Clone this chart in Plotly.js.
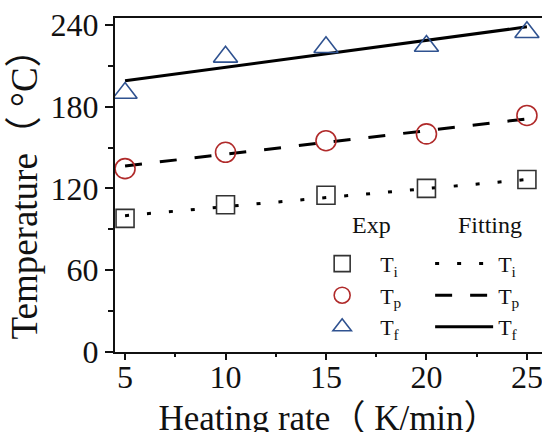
<!DOCTYPE html>
<html>
<head>
<meta charset="utf-8">
<script src="https://cdn.plot.ly/plotly-3.0.1.min.js"></script>
<style>
  html, body { margin: 0; padding: 0; background: #fff; overflow: hidden; }
  #chart { width: 542px; height: 452px; }
</style>
</head>
<body>
<div id="chart"></div>
<script>
// Heating rates (K/min)
const heatingRate = [5, 10, 15, 20, 25];

// Measured characteristic temperatures (°C)
const expTi = [98, 108, 115, 120, 126.5];
const expTp = [134.5, 146.5, 155, 160, 173.5];
const expTf = [190, 216.5, 223.5, 224.5, 234.5];

// Linear fits, evaluated at the ends of the heating-rate range
const fitRate = [5, 25];
const fitTi = [100, 126.5];
const fitTp = [136.5, 171];
const fitTf = [199, 238.5];

const seriesNames = ['T<sub>i</sub>', 'T<sub>p</sub>', 'T<sub>f</sub>'];
const legendHeaders = ['Exp', 'Fitting'];

const serif = "'Liberation Serif', 'Times New Roman', 'Noto Sans CJK SC', serif";
const ink = '#111';

const traces = [
  // fitted lines (drawn first so markers sit on top)
  { x: fitRate, y: fitTi, mode: 'lines', name: seriesNames[0], legend: 'legend2',
    line: { color: '#000', width: 3, dash: '4px,18px' } },
  { x: fitRate, y: fitTp, mode: 'lines', name: seriesNames[1], legend: 'legend2',
    line: { color: '#000', width: 3, dash: '17px,18px' } },
  { x: fitRate, y: fitTf, mode: 'lines', name: seriesNames[2], legend: 'legend2',
    line: { color: '#000', width: 3 } },
  // experimental points
  { x: heatingRate, y: expTi, mode: 'markers', name: seriesNames[0], legend: 'legend',
    marker: { symbol: 'square-open', size: 18, color: '#333', line: { width: 1.6, color: '#333' } } },
  { x: heatingRate, y: expTp, mode: 'markers', name: seriesNames[1], legend: 'legend',
    marker: { symbol: 'circle-open', size: 20, color: '#b02a2a', line: { width: 1.6, color: '#b02a2a' } } },
  { x: heatingRate, y: expTf, mode: 'markers', name: seriesNames[2], legend: 'legend',
    marker: { symbol: 'triangle-up-open', size: 21, color: '#2f5290', line: { width: 1.6, color: '#2f5290' } } }
];

const legendBase = {
  xanchor: 'left', yanchor: 'top',
  bgcolor: 'rgba(0,0,0,0)', borderwidth: 0, tracegroupgap: 0,
  font: { family: serif, size: 22, color: ink }
};

// The figure is a little taller than the 432px window, so the descenders
// of the x-axis title run past the lower edge.
const layout = {
  width: 542,
  height: 452,
  margin: { l: 115, r: 0, t: 18, b: 100, pad: 0 },
  paper_bgcolor: '#fff',
  plot_bgcolor: '#fff',
  font: { family: serif, color: ink, size: 24 },
  showlegend: true,
  xaxis: {
    range: [4.5, 25.75],
    tickmode: 'linear', tick0: 5, dtick: 5,
    ticks: 'outside', ticklen: 6, tickwidth: 2, tickcolor: ink,
    minor: { ticks: 'outside', tick0: 5, dtick: 2.5, ticklen: 3, tickwidth: 2, tickcolor: ink },
    showline: true, linewidth: 2, linecolor: ink, mirror: true,
    showgrid: false, zeroline: false,
    ticklabeloverflow: 'allow', ticklabelstandoff: -10,
    tickfont: { family: serif, size: 32, color: ink },
    title: { text: 'Heating rate（ K/min）', font: { family: serif, size: 35, color: ink }, standoff: 11 }
  },
  yaxis: {
    range: [0, 245],
    tickmode: 'linear', tick0: 0, dtick: 60,
    ticks: 'outside', ticklen: 8, tickwidth: 2, tickcolor: ink,
    minor: { ticks: 'outside', tick0: 0, dtick: 30, ticklen: 5, tickwidth: 2, tickcolor: ink },
    showline: true, linewidth: 2, linecolor: ink,
    showgrid: false, zeroline: false,
    tickfont: { family: serif, size: 32, color: ink },
    title: { text: 'Temperature（ °C）\u00a0\u00a0', font: { family: serif, size: 37, color: ink }, standoff: 2 }
  },
  legend: Object.assign({}, legendBase, { x: 0.443, y: 0.327, itemwidth: 66 }),
  legend2: Object.assign({}, legendBase, { x: 0.738, y: 0.327, itemwidth: 58 }),
  annotations: [
    { text: legendHeaders[0], xref: 'paper', yref: 'paper', x: 0.6, y: 0.38,
      xanchor: 'center', yanchor: 'middle', showarrow: false,
      font: { family: serif, size: 24, color: ink } },
    { text: legendHeaders[1], xref: 'paper', yref: 'paper', x: 0.878, y: 0.38,
      xanchor: 'center', yanchor: 'middle', showarrow: false,
      font: { family: serif, size: 24, color: ink } }
  ]
};

Plotly.newPlot('chart', traces, layout, { displayModeBar: false, staticPlot: true });
</script>
</body>
</html>
